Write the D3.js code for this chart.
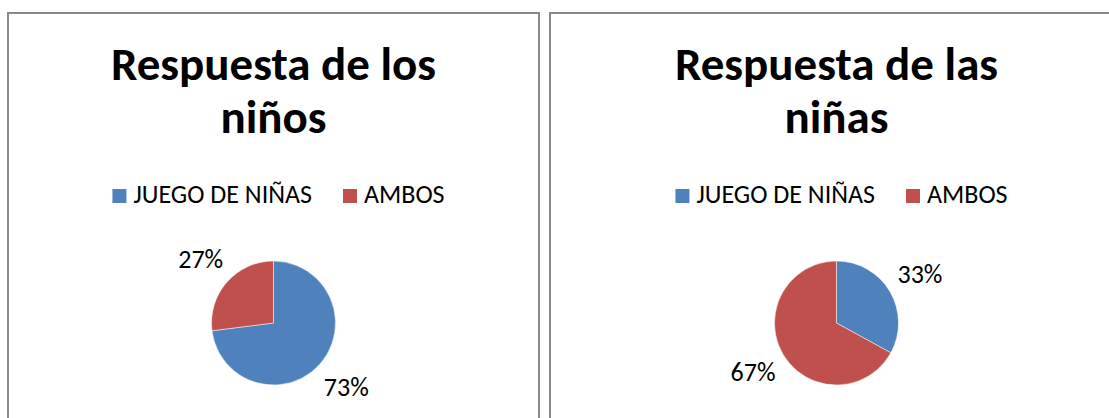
<!DOCTYPE html>
<html lang="es">
<head>
<meta charset="utf-8">
<title>Respuesta de los niños y las niñas</title>
<script src="https://d3js.org/d3.v7.min.js"></script>
<style>
  body { margin: 0; background: white; }
  text { font-family: Calibri, Carlito, Lato, "Open Sans", sans-serif; fill: #000; }
</style>
</head>
<body>
<script>

// data
var categories = ["JUEGO DE NIÑAS", "AMBOS"];
var ninosValues = [73, 27];
var ninasValues = [33, 67];
var ninosTitle = ["Respuesta de los", "niños"];
var ninasTitle = ["Respuesta de las", "niñas"];
var colors = ["#4F81BD", "#C0504D"];

var w = 1109;
var h = 418;

var svg = d3.select("body")
  .append("svg")
    .attr("width", w)
    .attr("height", h);

svg.append("rect")
  .attr("width", w)
  .attr("height", h)
  .attr("fill", "white");

var color = d3.scaleOrdinal()
  .domain(categories)
  .range(colors);

var pie = d3.pie()
  .sort(null)
  .value(d => d.value);

var radius = 62;
var arc = d3.arc().innerRadius(0).outerRadius(radius);
var labelArc = d3.arc().innerRadius(97).outerRadius(97);

// one panel per chart
var panels = [
  {x: 8, width: 531, cx: 273.5, title: ninosTitle, values: ninosValues},
  {x: 550, width: 573, cx: 836.5, title: ninasTitle, values: ninasValues}
];

panels.forEach(function(p) {
  var g = svg.append("g");

  // chart border
  g.append("rect")
    .attr("x", p.x)
    .attr("y", 13)
    .attr("width", p.width)
    .attr("height", 440)
    .attr("fill", "none")
    .attr("stroke", "#898989")
    .attr("stroke-width", 2);

  // title, one text per line
  g.selectAll("text.title")
    .data(p.title)
    .enter().append("text")
      .attr("class", "title")
      .attr("x", p.cx)
      .attr("y", (d, i) => 80 + i * 53)
      .attr("text-anchor", "middle")
      .attr("font-size", 47)
      .attr("font-weight", "bold")
      .text(d => d);

  // legend
  var legend = g.append("g");
  var items = legend.selectAll("g")
    .data(categories)
    .enter().append("g");
  items.append("rect")
    .attr("width", 14)
    .attr("height", 14)
    .attr("y", 189)
    .attr("fill", d => color(d));
  items.append("text")
    .attr("x", 21)
    .attr("y", 203)
    .attr("font-size", 26)
    .text(d => d);

  var offset = 0;
  items.each(function() {
    var tw = d3.select(this).select("text").node().getComputedTextLength();
    d3.select(this).attr("transform", `translate(${offset},0)`);
    offset += 21 + tw + 31;
  });
  var total = offset - 31;
  legend.attr("transform", `translate(${p.cx + 5 - total / 2},0)`);

  // pie
  var data = categories.map((c, i) => ({name: c, value: p.values[i]}));
  var slices = g.append("g")
    .attr("transform", `translate(${p.cx}, 323)`);

  slices.selectAll("path")
    .data(pie(data))
    .enter().append("path")
      .attr("d", arc)
      .attr("fill", d => color(d.data.name))
      .attr("stroke", "white")
      .attr("stroke-width", 0.5);

  slices.selectAll("text")
    .data(pie(data))
    .enter().append("text")
      .attr("x", d => labelArc.centroid(d)[0])
      .attr("y", d => labelArc.centroid(d)[1])
      .attr("dy", "0.35em")
      .attr("text-anchor", "middle")
      .attr("font-size", 26)
      .text(d => d.data.value + "%");
});

</script>
</body>
</html>
